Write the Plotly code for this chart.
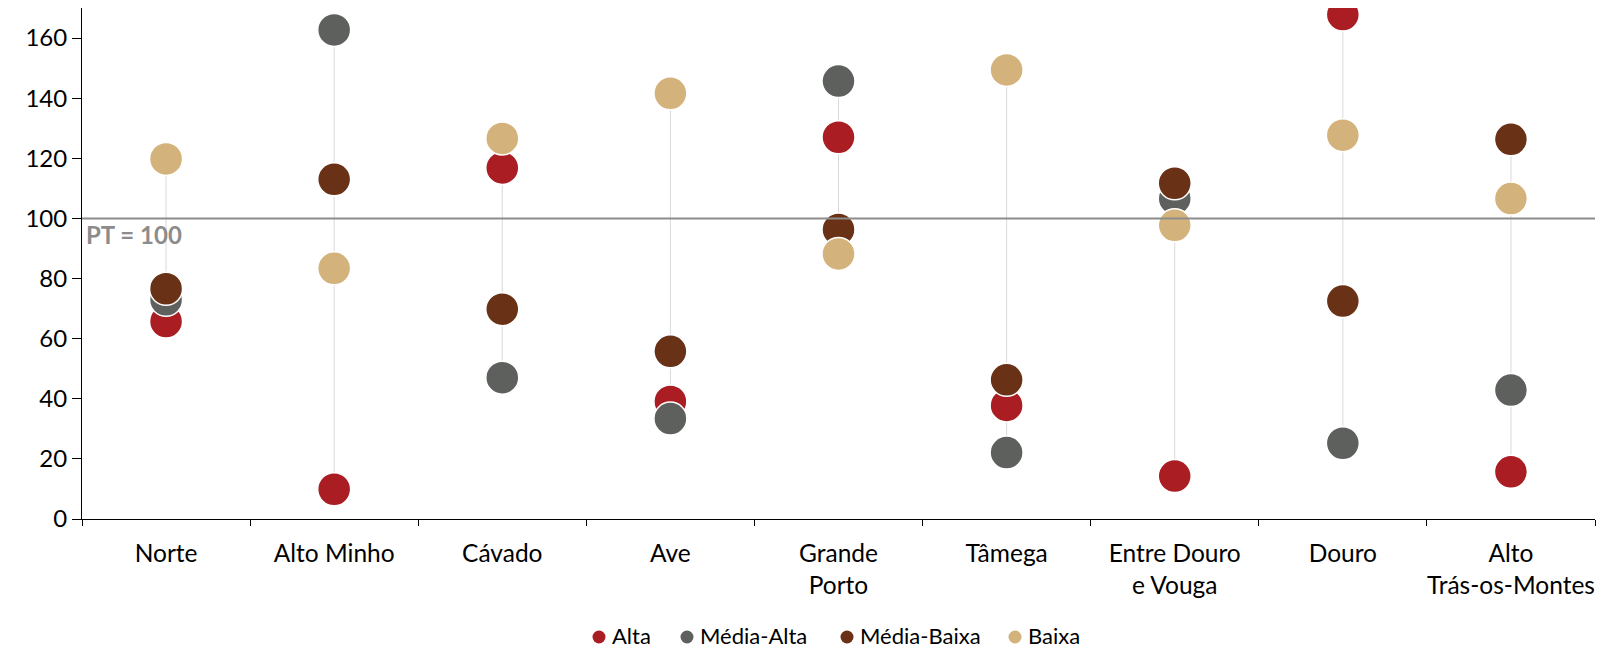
import plotly.graph_objects as go

categories = ["Norte", "Alto Minho", "Cávado", "Ave", "Grande<br>Porto", "Tâmega",
              "Entre Douro<br>e Vouga", "Douro", "Alto<br>Trás-os-Montes"]
alta = [65.7, 9.9, 116.8, 39.1, 127.0, 37.8, 14.3, 167.8, 15.7]
media_alta = [72.9, 162.7, 47.0, 33.4, 145.7, 22.1, 106.6, 25.2, 42.9]
media_baixa = [76.6, 113.0, 69.8, 55.8, 96.3, 46.3, 111.7, 72.5, 126.3]
baixa = [119.8, 83.4, 126.6, 141.6, 88.2, 149.4, 97.7, 127.7, 106.6]
series_names = ["Alta", "Média-Alta", "Média-Baixa", "Baixa"]
series_colors = ["#AA1D23", "#5E605E", "#693116", "#D4B27B"]
reference_value = 100
y_ticks = [0, 20, 40, 60, 80, 100, 120, 140, 160]

series = [alta, media_alta, media_baixa, baixa]
font_family = "Lato, 'Open Sans', sans-serif"

W, H = 1606, 651
ML, MR, MT, MB = 82, 11, 8, 132
PW, PH = W - ML - MR, H - MT - MB


def px_to_paper_x(px):
    return (px - ML) / PW


def px_to_paper_y(py):
    return (H - MB - py) / PH


fig = go.Figure()

# vertical connectors from min to max per category
vx, vy = [], []
for i, c in enumerate(categories):
    vals = [s[i] for s in series]
    vx += [c, c, None]
    vy += [min(vals), max(vals), None]
fig.add_trace(go.Scatter(x=vx, y=vy, mode="lines", line=dict(color="#D9D9D9", width=1),
                         showlegend=False, hoverinfo="skip"))

for name, vals, col in zip(series_names, series, series_colors):
    fig.add_trace(go.Scatter(x=categories, y=vals, mode="markers", name=name,
                             marker=dict(size=33, color=col, line=dict(color="white", width=1.5)),
                             showlegend=False))

fig.add_shape(type="line", xref="paper", x0=0, x1=1, yref="y", y0=reference_value, y1=reference_value,
              line=dict(color="#8C8C8C", width=2), layer="above")
fig.add_annotation(xref="paper", x=px_to_paper_x(84), yref="y", y=reference_value, text="<b>PT = 100</b>",
                   showarrow=False, xanchor="left", yanchor="top", yshift=0,
                   font=dict(size=24, color="#8C8C8C", family=font_family))

# manual legend (marker circles + labels) below the chart
legend_marker_px = [599, 687, 847, 1015]
legend_marker_y_px = 637
legend_text_y_px = 635
for name, col, mx in zip(series_names, series_colors, legend_marker_px):
    fig.add_shape(type="circle", xref="paper", yref="paper",
                  xsizemode="pixel", ysizemode="pixel",
                  xanchor=px_to_paper_x(mx), yanchor=px_to_paper_y(legend_marker_y_px),
                  x0=-6.5, x1=6.5, y0=-6.5, y1=6.5,
                  fillcolor=col, line=dict(width=0))
    fig.add_annotation(xref="paper", yref="paper", x=px_to_paper_x(mx + 12), y=px_to_paper_y(legend_text_y_px),
                       text=name, showarrow=False, xanchor="left", yanchor="middle", borderpad=0,
                       font=dict(size=22, color="#000000", family=font_family))

fig.update_layout(
    width=W, height=H,
    margin=dict(l=ML, r=MR, t=MT, b=MB),
    plot_bgcolor="white", paper_bgcolor="white",
    font=dict(family=font_family, size=24, color="#000000"),
    showlegend=False,
)
fig.update_xaxes(type="category", categoryorder="array", categoryarray=categories,
                 showline=True, linecolor="#000000", linewidth=1, automargin=False,
                 ticks="outside", ticklen=6, tickcolor="#000000", tickson="boundaries",
                 showgrid=False, zeroline=False, ticklabelstandoff=13, tickangle=0,
                 tickfont=dict(size=24.5), range=[-0.5, len(categories) - 0.5])
fig.update_yaxes(range=[0, 170], tickvals=y_ticks, showline=True, linecolor="#000000", linewidth=1,
                 ticks="outside", ticklen=9, tickcolor="#000000", showgrid=False, zeroline=False,
                 automargin=False, tickfont=dict(size=24))

fig.write_html("out.html")
